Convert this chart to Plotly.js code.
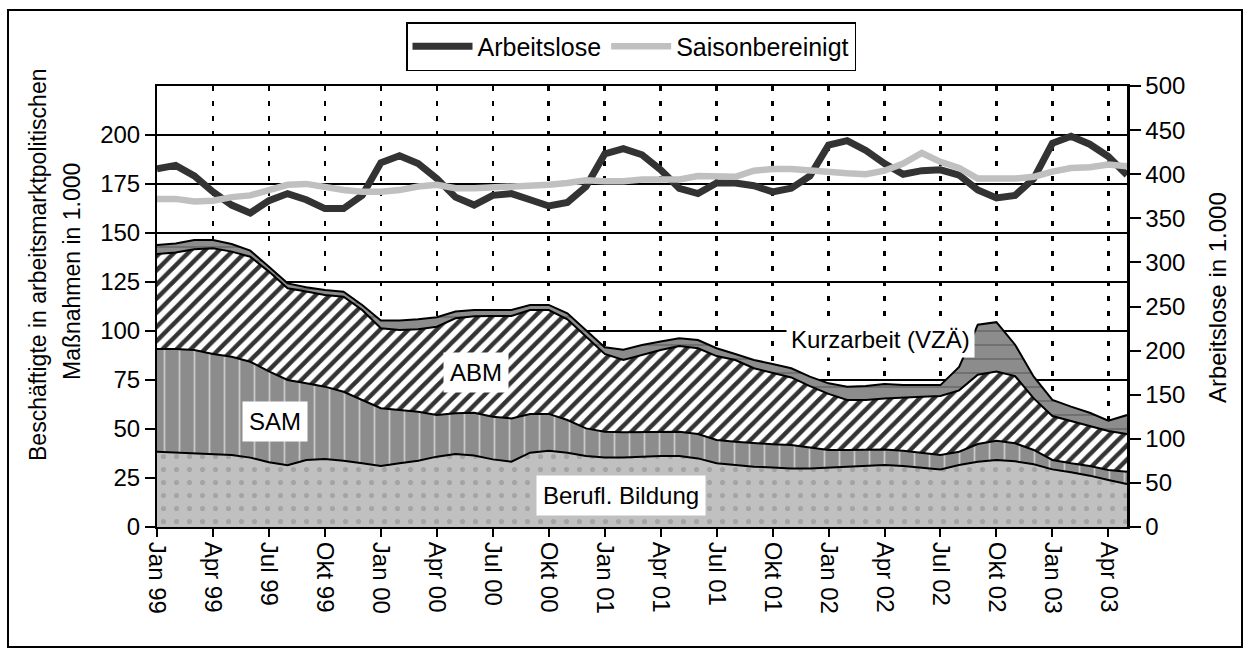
<!DOCTYPE html>
<html>
<head>
<meta charset="utf-8">
<script src="https://cdn.plot.ly/plotly-3.0.1.min.js"></script>
<style>
  html, body { margin: 0; padding: 0; background: #ffffff; }
  #chart { width: 1250px; height: 657px; }
</style>
</head>
<body>
<div id="chart"></div>
<script>
// Months Jan 99 .. May 03 (index 0..52)
const monthIndex = Array.from({length: 53}, (_, i) => i);
const tickPositions = [0,3,6,9,12,15,18,21,24,27,30,33,36,39,42,45,48,51];
const tickLabels = ["Jan 99","Apr 99","Jul 99","Okt 99","Jan 00","Apr 00","Jul 00","Okt 00",
                    "Jan 01","Apr 01","Jul 01","Okt 01","Jan 02","Apr 02","Jul 02","Okt 02",
                    "Jan 03","Apr 03"];

// Beschäftigte in Maßnahmen (1.000), stacked components
const beruflBildung = [38.4,37.9,37.6,37.2,36.7,35.4,33.0,31.5,34.2,34.7,33.8,32.5,31.1,32.5,33.8,35.9,37.2,36.5,34.5,33.3,
                       37.9,38.9,37.9,36.2,35.5,35.5,35.9,36.2,36.2,35.0,32.5,31.6,30.8,30.4,29.9,29.9,30.4,30.8,31.1,31.6,
                       31.1,30.4,29.4,31.6,33.3,34.2,33.5,32.0,29.4,27.9,26.2,24.0,21.9];
const sam = [52.4,52.9,52.7,51.1,50.2,48.9,46.4,43.5,39.1,36.9,35.2,32.3,29.5,27.2,25.0,21.2,20.8,21.8,21.8,22.1,
             19.8,18.8,16.7,14.1,13.1,12.8,12.4,12.4,12.4,12.4,11.9,11.9,11.9,11.8,11.9,10.8,8.9,8.5,8.5,8.0,
             7.8,7.5,7.3,6.8,9.0,9.8,9.2,7.3,4.8,4.6,4.9,5.1,6.3];
const abm = [48.5,49.2,51.4,53.9,53.6,53.6,50.9,46.8,46.8,46.8,48.5,45.9,40.8,40.8,42.1,45.1,48.5,49.2,51.4,52.3,
             53.0,53.0,51.4,46.8,39.7,36.9,39.5,41.7,43.7,43.8,42.8,41.7,38.3,36.5,34.5,31.2,28.6,25.5,25.2,26.0,
             27.3,28.6,30.1,31.3,35.4,35.3,34.3,26.3,22.4,21.6,20.4,19.9,19.2];
const kurzarbeit = [4.6,4.7,4.7,4.2,3.9,3.1,2.5,2.5,2.2,2.5,2.5,2.6,3.9,4.8,5.1,4.8,3.4,3.2,3.0,3.0,
                    2.6,2.6,3.0,3.4,3.4,5.3,5.1,4.3,4.0,4.2,4.0,3.1,4.2,4.5,4.7,4.8,5.4,6.8,7.1,7.4,
                    6.2,5.9,5.6,12.0,25.5,25.2,16.0,11.1,8.2,7.3,6.8,5.2,9.7];

// Arbeitslose (1.000), right axis
const arbeitslose = [406,410,398,380,365,356,370,378,371,361,361,376,413,421,412,395,374,365,376,378,
                     371,364,368,386,423,429,422,405,384,378,390,390,387,380,384,398,433,438,427,412,
                     400,404,405,399,382,373,376,395,435,443,434,420,399];
const saisonbereinigt = [372,372,369,370,374,376,382,388,389,385,382,380,380,382,386,388,384,384,385,386,
                         386,388,390,393,392,392,394,394,394,398,397,397,404,406,406,404,403,401,400,404,
                         412,424,414,407,395,395,395,397,403,407,408,411,409];

const FONT = "Liberation Sans, Arial, sans-serif";
const FS = 24;

// plot area pixel geometry (used for paper-positioned decorations)
const L = 157, R = 1127, T = 86, B = 527;
const W = R - L, H = B - T;
const px = x => (x - L) / W;
const py = y => (B - y) / H;

const areaLine = {color: "#000000", width: 2};

const traces = [
  {x: monthIndex, y: beruflBildung, type: "scatter", mode: "lines", stackgroup: "m", name: "Berufl. Bildung",
   line: areaLine, fillcolor: "#c0c0c0",
   fillpattern: {shape: ".", bgcolor: "#c0c0c0", fgcolor: "#a4a4a4", size: 13, solidity: 0.12},
   showlegend: false, hoverinfo: "skip"},
  {x: monthIndex, y: sam, type: "scatter", mode: "lines", stackgroup: "m", name: "SAM",
   line: areaLine, fillcolor: "#8c8c8c",
   fillpattern: {shape: "|", bgcolor: "#8c8c8c", fgcolor: "#c8c8c8", size: 15, solidity: 0.12},
   showlegend: false, hoverinfo: "skip"},
  {x: monthIndex, y: abm, type: "scatter", mode: "lines", stackgroup: "m", name: "ABM",
   line: areaLine, fillcolor: "#ffffff",
   fillpattern: {shape: "/", bgcolor: "#ffffff", fgcolor: "#333333", size: 10, solidity: 0.45},
   showlegend: false, hoverinfo: "skip"},
  {x: monthIndex, y: kurzarbeit, type: "scatter", mode: "lines", stackgroup: "m", name: "Kurzarbeit (VZÄ)",
   line: areaLine, fillcolor: "#8c8c8c",
   fillpattern: {shape: "-", bgcolor: "#8c8c8c", fgcolor: "#6a6a6a", size: 14, solidity: 0.12},
   showlegend: false, hoverinfo: "skip"},
  {x: monthIndex, y: arbeitslose, type: "scatter", mode: "lines", yaxis: "y2", name: "Arbeitslose",
   line: {color: "#333333", width: 7}, hoverinfo: "skip"},
  {x: monthIndex, y: saisonbereinigt, type: "scatter", mode: "lines", yaxis: "y2", name: "Saisonbereinigt",
   line: {color: "#c0c0c0", width: 6.5}, hoverinfo: "skip"}
];

const leftTicks = [0,25,50,75,100,125,150,175,200];
const rightTicks = [0,50,100,150,200,250,300,350,400,450,500];

const layout = {
  width: 1250, height: 657,
  paper_bgcolor: "#ffffff", plot_bgcolor: "#ffffff",
  margin: {l: L, r: 1250 - R, t: T, b: 657 - B, pad: 0},
  font: {family: FONT, size: FS, color: "#000000"},
  showlegend: true,
  legend: {orientation: "h", x: px(631), xanchor: "center", y: py(22), yanchor: "top",
           bordercolor: "#000000", borderwidth: 1.5, bgcolor: "#ffffff",
           font: {family: FONT, size: 25, color: "#000000"}, traceorder: "normal", itemwidth: 60},
  xaxis: {range: [0, 52], tickmode: "array", tickvals: tickPositions, ticktext: tickLabels,
          tickangle: 90, ticks: "outside", ticklen: 8, tickwidth: 2, tickcolor: "#000000",
          showline: true, linecolor: "#000000", linewidth: 2, mirror: true,
          showgrid: true, gridcolor: "#000000", gridwidth: 2.5, griddash: "5px,10px",
          zeroline: false, tickfont: {family: FONT, size: FS}, fixedrange: true},
  yaxis: {range: [0, 225], tickmode: "array", tickvals: leftTicks, ticks: "outside", ticklen: 10, tickwidth: 2,
          tickcolor: "#000000", showline: true, linecolor: "#000000", linewidth: 2,
          showgrid: true, gridcolor: "#000000", gridwidth: 1.5, zeroline: false,
          tickfont: {family: FONT, size: FS}, fixedrange: true},
  yaxis2: {range: [0, 500], overlaying: "y", side: "right", tickmode: "array", tickvals: rightTicks,
           ticks: "outside", ticklen: 11, tickwidth: 2, tickcolor: "#000000",
           showline: true, linecolor: "#000000", linewidth: 2.5, showgrid: false, zeroline: false,
           tickfont: {family: FONT, size: FS}, fixedrange: true},
  yaxis3: {range: [0, 225], overlaying: "y", side: "left", anchor: "x", tickmode: "array", tickvals: leftTicks,
           ticks: "inside", ticklen: 7, tickwidth: 2, tickcolor: "#000000", showticklabels: false,
           showline: false, showgrid: false, zeroline: false, fixedrange: true},
  yaxis4: {range: [0, 500], overlaying: "y", side: "right", anchor: "x", tickmode: "array", tickvals: rightTicks,
           ticks: "inside", ticklen: 7, tickwidth: 2, tickcolor: "#000000", showticklabels: false,
           showline: false, showgrid: false, zeroline: false, fixedrange: true},
  annotations: [
    {xref: "paper", yref: "paper", x: px(38), y: py(265), xanchor: "center", yanchor: "middle",
     text: "Beschäftigte in arbeitsmarktpolitischen",
     showarrow: false, textangle: -90, font: {family: FONT, size: 23}},
    {xref: "paper", yref: "paper", x: px(72), y: py(272), xanchor: "center", yanchor: "middle",
     text: "Maßnahmen in 1.000",
     showarrow: false, textangle: -90, font: {family: FONT, size: 23}},
    {xref: "paper", yref: "paper", x: px(1217), y: py(298), xanchor: "center", yanchor: "middle",
     text: "Arbeitslose in 1.000",
     showarrow: false, textangle: -90, font: {family: FONT, size: 24}},
    {x: 6.33, y: 53.6, xref: "x", yref: "y", text: "SAM", showarrow: false, bgcolor: "#ffffff", borderpad: 6,
     font: {family: FONT, size: FS}},
    {x: 17.1, y: 78.6, xref: "x", yref: "y", text: "ABM", showarrow: false, bgcolor: "#ffffff", borderpad: 6,
     font: {family: FONT, size: FS}},
    {x: 24.9, y: 16.3, xref: "x", yref: "y", text: "Berufl. Bildung", showarrow: false, bgcolor: "#ffffff", borderpad: 6,
     font: {family: FONT, size: FS}},
    {x: 38.8, y: 95.9, xref: "x", yref: "y", text: "Kurzarbeit (VZÄ)", showarrow: false, bgcolor: "#ffffff", borderpad: 4,
     font: {family: FONT, size: FS}}
  ],
  shapes: [
    {type: "rect", xref: "paper", yref: "paper", x0: px(8), x1: px(1242), y0: py(647), y1: py(10),
     line: {color: "#000000", width: 2}, fillcolor: "rgba(0,0,0,0)", layer: "above"}
  ]
};

Plotly.newPlot("chart", traces, layout, {staticPlot: true, displayModeBar: false});
</script>
</body>
</html>
